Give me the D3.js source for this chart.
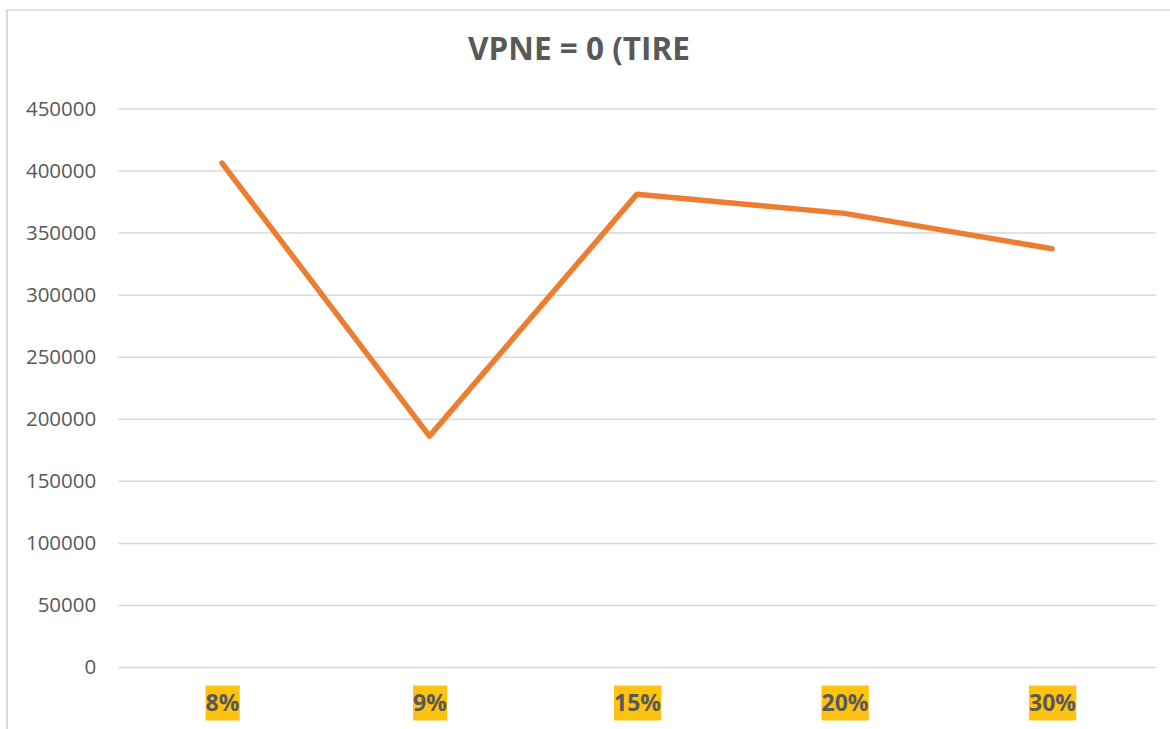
<!DOCTYPE html>
<html>
<head>
<meta charset="utf-8">
<script src="https://cdn.jsdelivr.net/npm/d3@7"></script>
<style>
  body { margin: 0; background: #fff; }
  svg { display: block; font-family: "Open Sans", sans-serif; }
</style>
</head>
<body>
<svg id="chart"></svg>
<script>
// data
const categories = ['8%', '9%', '15%', '20%', '30%'];
const values = [406000, 186000, 381000, 365500, 337000];
const yTicks = [0, 50000, 100000, 150000, 200000, 250000, 300000, 350000, 400000, 450000];
const title = 'VPNE = 0 (TIRE';

var width = 1170, height = 729;
var plotLeft = 118.25, plotRight = 1155.75, plotTop = 108.5, plotBottom = 667;

var svg = d3.select('#chart')
    .attr('width', width)
    .attr('height', height);

// chart area border (left + top visible)
svg.append('line')
    .attr('x1', 7).attr('x2', 7).attr('y1', 10).attr('y2', height)
    .attr('stroke', '#d9d9d9').attr('stroke-width', 2);
svg.append('line')
    .attr('x1', 6).attr('x2', width).attr('y1', 10).attr('y2', 10)
    .attr('stroke', '#d9d9d9').attr('stroke-width', 1.5);

var x = d3.scalePoint()
    .domain(categories)
    .range([plotLeft, plotRight])
    .padding(0.5);

var y = d3.scaleLinear()
    .domain([0, 450000])
    .range([plotBottom, plotTop]);

// gridlines + y labels
var yAxis = d3.axisLeft(y)
    .tickValues(yTicks)
    .tickSize(-(plotRight - plotLeft))
    .tickPadding(22)
    .tickFormat(d3.format('d'));

var gy = svg.append('g')
    .attr('transform', 'translate(' + plotLeft + ',0)')
    .call(yAxis);
gy.select('.domain').remove();
gy.selectAll('.tick line')
    .attr('stroke', '#d9d9d9')
    .attr('stroke-width', 1.5);
gy.selectAll('.tick text')
    .attr('fill', '#595959')
    .attr('font-size', 20.5)
    .attr('font-family', '"Open Sans", sans-serif');

// x labels with yellow highlight
var xAxis = d3.axisBottom(x).tickSize(0).tickPadding(0);
var gx = svg.append('g')
    .attr('transform', 'translate(0,' + 703 + ')')
    .call(xAxis);
gx.select('.domain').remove();
gx.selectAll('.tick text')
    .attr('y', 0)
    .attr('dy', '0.35em')
    .attr('fill', '#595959')
    .attr('font-size', 23)
    .attr('font-weight', 'bold')
    .attr('font-family', '"Open Sans", sans-serif');
gx.selectAll('.tick').each(function() {
    var t = d3.select(this).select('text');
    var b = t.node().getBBox();
    d3.select(this).insert('rect', 'text')
        .attr('x', b.x)
        .attr('y', -17.5)
        .attr('width', b.width)
        .attr('height', 35)
        .attr('fill', '#FFC20E');
});

// line
var line = d3.line()
    .x(function(d, i) { return x(categories[i]); })
    .y(function(d) { return y(d); });

svg.append('path')
    .datum(values)
    .attr('d', line)
    .attr('fill', 'none')
    .attr('stroke', '#ED7D31')
    .attr('stroke-width', 5.5)
    .attr('stroke-linecap', 'round')
    .attr('stroke-linejoin', 'round');

// title
svg.append('text')
    .attr('x', 579)
    .attr('y', 60)
    .attr('text-anchor', 'middle')
    .attr('fill', '#595959')
    .attr('font-size', 31.5)
    .attr('font-weight', 'bold')
    .attr('font-family', '"Open Sans", sans-serif')
    .text(title);
</script>
</body>
</html>
